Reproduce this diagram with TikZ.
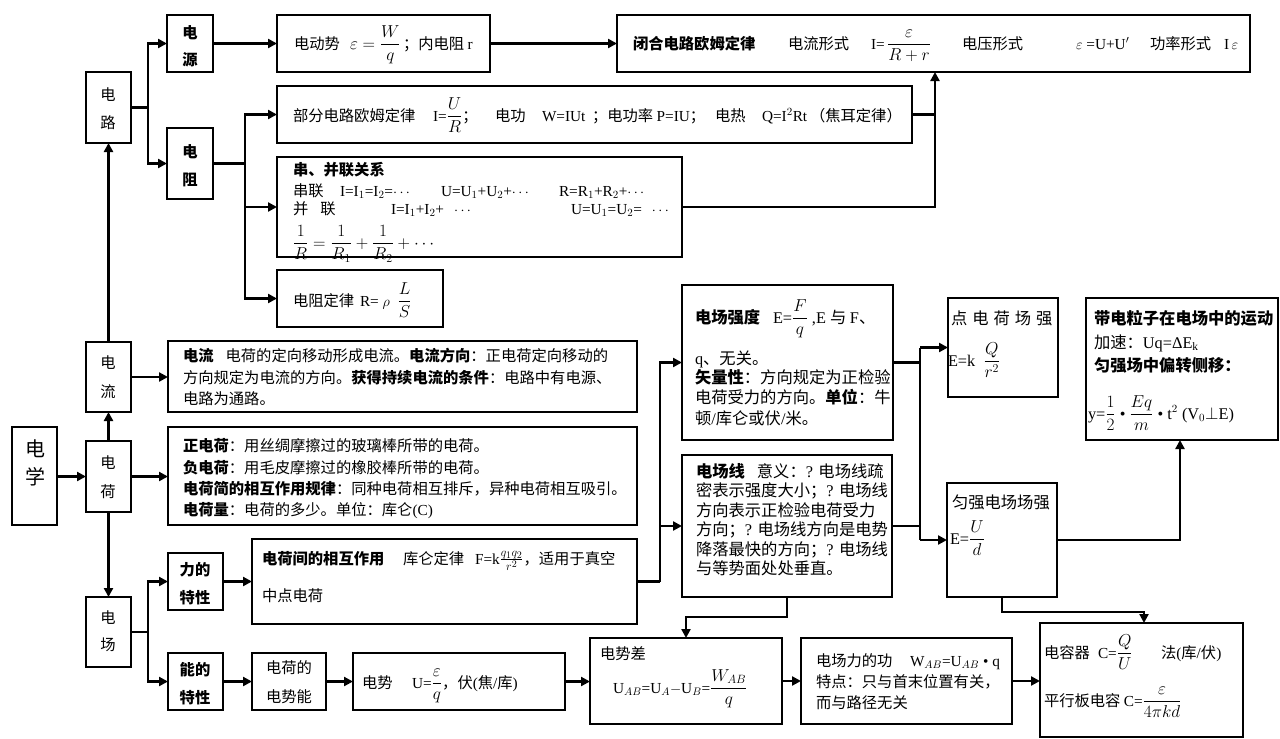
\documentclass[tikz,border=0pt]{standalone}
\usepackage{amsmath}
\usepackage{fontspec}
\setmainfont{Liberation Serif}
\newfontfamily\cjk{Noto Sans CJK SC}
\usetikzlibrary{arrows.meta}
% automatic switch between CJK and Latin fonts
\XeTeXinterchartokenstate=1
\newXeTeXintercharclass\cjkcls
\count255="3000
\loop\ifnum\count255<"3040 \XeTeXcharclass\count255=\cjkcls \advance\count255 by 1 \repeat
\count255="4E00
\loop\ifnum\count255<"A000 \XeTeXcharclass\count255=\cjkcls \advance\count255 by 1 \repeat
\count255="FF00
\loop\ifnum\count255<"FF60 \XeTeXcharclass\count255=\cjkcls \advance\count255 by 1 \repeat
\XeTeXinterchartoks 0 \cjkcls = {\cjk}
\XeTeXinterchartoks 4095 \cjkcls = {\cjk}
\XeTeXinterchartoks \cjkcls \cjkcls = {\cjk}
\XeTeXinterchartoks \cjkcls 0 = {\rmfamily}
\XeTeXinterchartoks 4095 0 = {\rmfamily}

\newcommand\fsa{\fontsize{15.3}{18}\selectfont}
\newcommand\fsb{\fontsize{16.3}{19}\selectfont}
\newcommand\mf[1]{{\fontsize{17.28}{20}\selectfont$\displaystyle #1$}}
\tikzset{
  box/.style={draw, line width=1.3pt, inner sep=0pt, outer sep=0pt},
  txt/.style={inner sep=0pt, outer sep=0pt, anchor=base west, font=\fsa},
  txtb/.style={txt, font=\fsb},
  vt/.style={inner sep=0pt, outer sep=0pt, anchor=center, align=center},
  ln/.style={line width=2.3pt},
  arr/.style={line width=2.3pt, -{Triangle[length=9pt,width=9pt]}},
}
\newcommand\BX[6][]{\node[box,#1,minimum width=#5pt-#3pt,minimum height=#6pt-#4pt] (#2) at ({(#3+#5)/2},{(#4+#6)/2}) {};}
\newcommand\TX[5][]{\node[txt,#1] (#2) at (#3,#4) {#5};}

\begin{document}
\begin{tikzpicture}[x=1pt,y=-1pt]
\fill[white] (0,0) rectangle (1280,739);
\useasboundingbox (0,0) rectangle (1280,739);

% ---------- boxes ----------
\BX{dianxue}{12}{427}{57}{525}
\BX{dianlu}{86}{72}{131}{143}
\BX{dianliu}{86}{342}{131}{412}
\BX{dianhe}{86}{441}{131}{512}
\BX{dianchang}{86}{597}{131}{667}
\BX{dianyuan}{167}{15}{213}{72}
\BX{dianzu}{167}{128}{213}{199}
\BX{ddsh}{277}{15}{490}{72}
\BX{bihe}{617}{15}{1250}{72}
\BX{bufen}{277}{86}{912}{143}
\BX{chuanbing}{277}{157}{682}{257}
\BX{dzdl}{277}{270}{443}{327}
\BX{liudesc}{168}{341}{637}{412}
\BX{hedesc}{168}{427}{637}{525}
\BX{lide}{168}{553}{223}{610}
\BX{hejian}{252}{539}{637}{624}
\BX{nengde}{168}{653}{223}{710}
\BX{dsn}{252}{653}{326}{710}
\BX{dianshi}{353}{653}{565}{710}
\BX{dsc}{590}{638}{782}{724}
\BX{gong}{801}{638}{1012}{724}
\BX{rongqi}{1040}{623}{1243}{737}
\BX{qiangdu}{682}{285}{893}{440}
\BX{xian}{682}{455}{892}{597}
\BX{dianhecq}{948}{298}{1058}{397}
\BX{yunqiang}{947}{483}{1057}{597}
\BX{lizi}{1086}{298}{1278}{440}

% ---------- vertical labels ----------
\node[vt,font=\fontsize{20}{28}\selectfont] (t-dianxue) at (35,463) {电\\学};
\node[vt,font=\fontsize{15.3}{28}\selectfont] (t-dianlu) at (108,109) {电\\路};
\node[vt,font=\fontsize{15.3}{27}\selectfont\bfseries] (t-dianyuan) at (190,46) {电\\源};
\node[vt,font=\fontsize{15.3}{28}\selectfont\bfseries] (t-dianzu) at (190,166) {电\\阻};
\node[vt,font=\fontsize{15.3}{29}\selectfont] (t-dianliu) at (108,377) {电\\流};
\node[vt,font=\fontsize{15.3}{29}\selectfont] (t-dianhe) at (108,477) {电\\荷};
\node[vt,font=\fontsize{15.3}{27}\selectfont] (t-dianchang) at (108,631) {电\\场};
\node[vt,font=\fontsize{15.3}{28}\selectfont\bfseries] (t-lide) at (195,584) {力的\\特性};
\node[vt,font=\fontsize{15.3}{28}\selectfont\bfseries] (t-nengde) at (195,684) {能的\\特性};
\node[vt,font=\fontsize{15.3}{29}\selectfont] (t-dsn) at (289,682) {电荷的\\电势能};

% ---------- top row ----------
\TX{dd1}{294}{49}{电动势}
\TX{dd2}{350}{49}{\mf{\varepsilon=\frac{W}{q}}}
\TX{dd3}{403}{49}{；内电阻 r}
\TX{bh1}{633}{49}{\textbf{闭合电路欧姆定律}}
\TX{bh2}{788}{49}{电流形式}
\TX{bh3}{871}{49}{I=\,\mf{\frac{\varepsilon}{R+r}}}
\TX{bh4}{962}{49}{电压形式}
\TX{bh5}{1076}{49}{$\varepsilon$ =U+U$'$}
\TX{bh6}{1150}{49}{功率形式}
\TX{bh7}{1224}{49}{I\,$\varepsilon$}

\TX{bf1}{293}{121}{部分电路欧姆定律}
\TX{bf2}{433}{121}{I=\mf{\frac{U}{R}}；}
\TX{bf3}{495}{121}{电功}
\TX{bf4}{542}{121}{W=IUt}
\TX{bf5}{592}{121}{；电功率 P=IU；}
\TX{bf6}{715}{121}{电热}
\TX{bf7}{762}{121}{Q=I$^2$Rt}
\TX{bf8}{810}{121}{（焦耳定律）}

\TX{sb1}{293}{175}{\textbf{串、并联关系}}
\TX{sb2a}{293}{196}{串联}
\TX{sb2b}{340}{196}{I=I$_1$=I$_2$=$\cdots$}
\TX{sb2c}{441}{196}{U=U$_1$+U$_2$+$\cdots$}
\TX{sb2d}{559}{196}{R=R$_1$+R$_2$+$\cdots$}
\TX{sb3a}{293}{214}{并\hspace{12pt}联}
\TX{sb3b}{391}{214}{I=I$_1$+I$_2$+\hspace{10pt}$\cdots$}
\TX{sb3c}{571}{214}{U=U$_1$=U$_2$=\hspace{10pt}$\cdots$}
\TX{sb4}{293}{248}{\mf{\frac{1}{R}=\frac{1}{R_1}+\frac{1}{R_2}+\cdots}}

\TX{dz1}{293}{306}{电阻定律}
\TX{dz2}{360}{306}{R= $\rho$\ \ \mf{\frac{L}{S}}}

% ---------- middle ----------
\TX{ld1}{183}{361}{\textbf{电流}\hspace{12pt}电荷的定向移动形成电流。\textbf{电流方向}：正电荷定向移动的}
\TX{ld2}{183}{383}{方向规定为电流的方向。\textbf{获得持续电流的条件}：电路中有电源、}
\TX{ld3}{183}{404}{电路为通路。}

\TX{hd1}{183}{451}{\textbf{正电荷}：用丝绸摩擦过的玻璃棒所带的电荷。}
\TX{hd2}{183}{473}{\textbf{负电荷}：用毛皮摩擦过的橡胶棒所带的电荷。}
\TX{hd3}{183}{494}{\textbf{电荷简的相互作用规律}：同种电荷相互排斥，异种电荷相互吸引。}
\TX{hd4}{183}{515}{\textbf{电荷量}：电荷的多少。单位：库仑(C)}

% ---------- bottom ----------
\TX{hj1}{262}{564}{\textbf{电荷间的相互作用}}
\TX{hj2}{403}{564}{库仑定律}
\TX{hj3}{475}{564}{F=k{\fontsize{17.28}{20}\selectfont$\frac{q_1q_2}{r^2}$}，适用于真空}
\TX{hj4}{262}{601}{中点电荷}

\TX{ds1}{362}{688}{电势}
\TX{ds2}{412}{688}{U=\mf{\frac{\varepsilon}{q}}，伏(焦/库)}

\TX{dc1}{600}{659}{电势差}
\TX{dc2}{613}{693}{U$_{AB}$=U$_A$$-$U$_B$=\mf{\frac{W_{AB}}{q}}}

\TX{g1}{816}{666}{电场力的功}
\TX{g1b}{910}{666}{W$_{AB}$=U$_{AB}$ • q}
\TX{g2}{816}{687}{特点：只与首末位置有关，}
\TX{g3}{816}{708}{而与路径无关}

\TX{r1}{1044}{658}{电容器}
\TX{r1b}{1098}{658}{C=\mf{\frac{Q}{U}}}
\TX{r1c}{1161}{658}{法(库/伏)}
\TX{r2}{1044}{706}{平行板电容 C=\mf{\frac{\varepsilon}{4\pi kd}}}

% ---------- right ----------
\TX[txtb]{q1}{695}{323}{\textbf{电场强度}}
\TX[txtb]{q1b}{773}{323}{E=\mf{\frac{F}{q}} ,E 与 F、}
\TX[txtb]{q2}{695}{364}{q、无关。}
\TX[txtb]{q3}{695}{383}{\textbf{矢量性}：方向规定为正检验}
\TX[txtb]{q4}{695}{403}{电荷受力的方向。\textbf{单位}：牛}
\TX[txtb]{q5}{695}{424}{顿/库仑或伏/米。}

\TX[txtb]{x1}{696}{477}{\textbf{电场线}\hspace{12pt}意义：? 电场线疏}
\TX[txtb]{x2}{696}{496}{密表示强度大小；? 电场线}
\TX[txtb]{x3}{696}{516}{方向表示正检验电荷受力}
\TX[txtb]{x4}{696}{535}{方向；? 电场线方向是电势}
\TX[txtb]{x5}{696}{555}{降落最快的方向；? 电场线}
\TX[txtb]{x6}{696}{574}{与等势面处处垂直。}

\TX[txtb]{pc1}{951}{324}{点\hspace{5pt}电\hspace{5pt}荷\hspace{5pt}场\hspace{5pt}强}
\TX[txtb]{pc2}{948}{366}{E=k\hspace{8pt}\mf{\frac{Q}{r^2}}}

\TX[txtb]{yq1}{952}{508}{匀强电场场强}
\TX[txtb]{yq2}{950}{544}{E=\mf{\frac{U}{d}}}

\TX[txtb]{lz1}{1094}{324}{\textbf{带电粒子在电场中的运动}}
\TX[txtb]{lz2}{1094}{348}{加速：Uq=ΔE$_{\mathrm{k}}$}
\TX[txtb]{lz3}{1094}{371}{\textbf{匀强场中偏转侧移：}}
\TX[txtb]{lz4}{1088}{419}{y=\mf{\frac{1}{2}} • \mf{\frac{Eq}{m}} • t$^2$ (V$_0$$\perp$E)}

% ---------- connectors ----------
\coordinate (f1) at (148,0);
\coordinate (f2) at (245,0);
\coordinate (f3) at (935,0);
\coordinate (f4) at (148,0);
\coordinate (f5) at (660,0);
\coordinate (f6) at (920,0);
\coordinate (f7) at (1180,0);
\coordinate (c1) at (1144,612);
\coordinate (c2) at (686,617);

\draw[arr] (dianxue.east |- dianhe.west) -- (dianhe.west);
\draw[arr] (dianhe.north) -- (dianliu.south);
\draw[arr] (dianliu.north) -- (dianlu.south);
\draw[arr] (dianhe.south) -- (dianchang.north);
\draw[arr] (dianliu.east) -- (liudesc.west |- dianliu.east);
\draw[arr] (dianhe.east) -- (hedesc.west |- dianhe.east);

\draw[ln] (dianlu.east) -- (f1 |- dianlu.east);
\draw[arr] (f1 |- dianlu.east) |- (dianyuan.west);
\draw[arr] (f1 |- dianlu.east) |- (dianzu.west);
\draw[arr] (dianyuan.east) -- (ddsh.west |- dianyuan.east);
\draw[arr] (ddsh.east) -- (bihe.west |- ddsh.east);

\draw[ln] (dianzu.east) -- (f2 |- dianzu.east);
\draw[arr] (f2 |- dianzu.east) |- (bufen.west);
\draw[arr] (f2 |- dianzu.east) |- (chuanbing.west);
\draw[arr] (f2 |- dianzu.east) |- (dzdl.west);

\draw[ln] (bufen.east) -- (f3 |- bufen.east);
\draw[arr] (chuanbing.east) -| (f3 |- bihe.south);

\draw[ln] (dianchang.east) -- (f4 |- dianchang.east);
\draw[arr] (f4 |- dianchang.east) |- (lide.west);
\draw[arr] (f4 |- dianchang.east) |- (nengde.west);
\draw[arr] (lide.east) -- (hejian.west |- lide.east);
\draw[arr] (nengde.east) -- (dsn.west);
\draw[arr] (dsn.east) -- (dianshi.west);
\draw[arr] (dianshi.east) -- (dsc.west |- dianshi.east);
\draw[arr] (dsc.east) -- (gong.west |- dsc.east);
\draw[arr] (gong.east) -- (rongqi.west |- gong.east);

\draw[ln] (hejian.east) -- (f5 |- hejian.east);
\draw[arr] (f5 |- hejian.east) |- (qiangdu.west);
\draw[arr] (f5 |- hejian.east) |- (xian.west);

\draw[ln] (qiangdu.east) -- (f6 |- qiangdu.east);
\draw[ln] (xian.east) -- (f6 |- xian.east);
\draw[ln] (f6 |- dianhecq.west) -- (f6 |- yunqiang.west);
\draw[arr] (f6 |- dianhecq.west) -- (dianhecq.west);
\draw[arr] (f6 |- yunqiang.west) -- (yunqiang.west);

\draw[arr] (yunqiang.east) -| (f7 |- lizi.south);
\draw[arr] (yunqiang.south) |- (c1) -- (c1 |- rongqi.north);
\draw[arr] (xian.south) |- (c2) -- (c2 |- dsc.north);
\end{tikzpicture}
\end{document}
